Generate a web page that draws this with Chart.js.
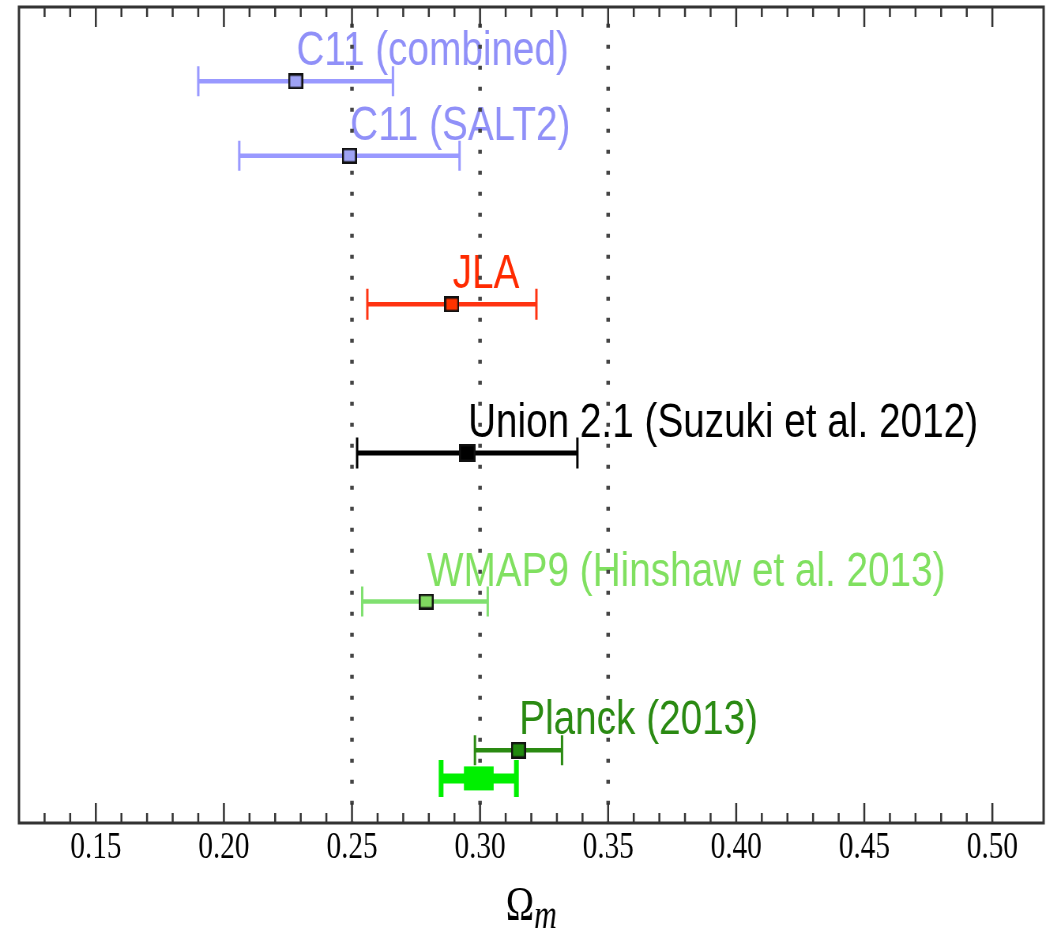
<!DOCTYPE html>
<html>
<head>
<meta charset="utf-8">
<title>Omega_m constraints</title>
<script src="https://cdn.jsdelivr.net/npm/chart.js@4.4.1/dist/chart.umd.min.js"></script>
<style>
  html, body { margin: 0; padding: 0; background: #fff; overflow: hidden; }
  /* the original figure is squeezed horizontally, so draw wide and squash */
  #wrap { position: absolute; left: 0; top: 0; width: 1328px; height: 929px;
          transform: scaleX(0.79); transform-origin: 0 0; }
</style>
</head>
<body>
<div id="wrap"><canvas id="chart"></canvas></div>
<script>
'use strict';

// measurements, top to bottom
const names = ['C11 (combined)', 'C11 (SALT2)', 'JLA', 'Union 2.1 (Suzuki et al. 2012)',
               'WMAP9 (Hinshaw et al. 2013)', 'Planck (2013)', ''];
const omegaM = [0.228, 0.249, 0.289, 0.295, 0.279, 0.315, 0.2995];
const errMinus = [0.038, 0.043, 0.033, 0.043, 0.025, 0.017, 0.0147];
const errPlus = [0.038, 0.043, 0.033, 0.043, 0.024, 0.017, 0.0147];
const innerErr = [0, 0, 0, 0, 0, 0, 0.0058];
const rowPos = [0.5, 1, 2, 3, 4, 5, 5.19];

const tickValues = [0.15, 0.20, 0.25, 0.30, 0.35, 0.40, 0.45, 0.50];
const guideLines = [0.25, 0.30, 0.35];

const rowStyle = [
  { line: '#9999ff', text: '#9090f8', fill: '#9ea2f4', lw: 4.5, cap: 30, capW: 3, mw: 19, mh: 16 },
  { line: '#9999ff', text: '#9090f8', fill: '#9ea2f4', lw: 4.5, cap: 30, capW: 3, mw: 19, mh: 16 },
  { line: '#ff3311', text: '#ff2a00', fill: '#ff3300', lw: 4.5, cap: 31, capW: 3, mw: 19, mh: 16 },
  { line: '#000000', text: '#000000', fill: '#000000', lw: 5, cap: 31, capW: 3, mw: 21, mh: 18 },
  { line: '#80e070', text: '#80e060', fill: '#80d860', lw: 4.5, cap: 30, capW: 3, mw: 19, mh: 16 },
  { line: '#2a8a12', text: '#2a8a12', fill: '#228a10', lw: 4.5, cap: 30, capW: 3, mw: 19, mh: 17 },
  { line: '#00f000', text: '#00f000', fill: '#00f000', lw: 10, cap: 37, capW: 6, mw: 1, mh: 1, boxH: 24 }
];

function marker(fill, w, h) {
  const c = document.createElement('canvas');
  c.width = w;
  c.height = h;
  const g = c.getContext('2d');
  g.fillStyle = fill;
  g.fillRect(0, 0, w, h);
  g.strokeStyle = '#111';
  g.lineWidth = 2.5;
  g.strokeRect(1.25, 1.25, w - 2.5, h - 2.5);
  return c;
}

const omegaPlot = {
  id: 'omegaPlot',
  beforeDatasetsDraw(chart) {
    const { ctx, chartArea: a, scales: { x, y } } = chart;
    ctx.save();

    // labels sit above each point
    ctx.font = '49px "Liberation Sans", Arial, sans-serif';
    ctx.textAlign = 'left';
    ctx.textBaseline = 'alphabetic';
    names.forEach((name, i) => {
      if (!name) return;
      ctx.fillStyle = rowStyle[i].text;
      ctx.fillText(name, x.getPixelForValue(omegaM[i]) + 1, y.getPixelForValue(rowPos[i]) - 16);
    });

    // dotted guides
    ctx.strokeStyle = '#444';
    ctx.lineWidth = 4.5;
    ctx.setLineDash([4, 17]);
    ctx.lineDashOffset = 4.3;
    guideLines.forEach(v => {
      const px = x.getPixelForValue(v);
      ctx.beginPath();
      ctx.moveTo(px, a.top);
      ctx.lineTo(px, a.bottom);
      ctx.stroke();
    });
    ctx.setLineDash([]);

    // error bars
    omegaM.forEach((v, i) => {
      const s = rowStyle[i];
      const py = y.getPixelForValue(rowPos[i]);
      const xl = x.getPixelForValue(v - errMinus[i]);
      const xr = x.getPixelForValue(v + errPlus[i]);
      ctx.strokeStyle = s.line;
      ctx.lineWidth = s.lw;
      ctx.beginPath();
      ctx.moveTo(xl, py);
      ctx.lineTo(xr, py);
      ctx.stroke();
      ctx.lineWidth = s.capW;
      ctx.beginPath();
      ctx.moveTo(xl, py - s.cap / 2);
      ctx.lineTo(xl, py + s.cap / 2);
      ctx.moveTo(xr, py - s.cap / 2);
      ctx.lineTo(xr, py + s.cap / 2);
      ctx.stroke();
      if (innerErr[i] > 0) {
        const bl = x.getPixelForValue(v - innerErr[i]);
        const br = x.getPixelForValue(v + innerErr[i]);
        ctx.fillStyle = s.fill;
        ctx.fillRect(bl, py - s.boxH / 2, br - bl, s.boxH);
      }
    });
    ctx.restore();
  },
  afterDatasetsDraw(chart) {
    const { ctx, chartArea: a, scales: { x } } = chart;
    ctx.save();
    ctx.strokeStyle = '#333';
    ctx.lineWidth = 2.5;
    ctx.beginPath();
    for (let k = 13; k <= 50; k++) {
      const v = k / 100;
      const px = x.getPixelForValue(v);
      const len = (k % 5 === 0) ? 20 : 10;
      ctx.moveTo(px, a.bottom);
      ctx.lineTo(px, a.bottom - len);
      ctx.moveTo(px, a.top);
      ctx.lineTo(px, a.top + len);
    }
    ctx.stroke();
    ctx.lineWidth = 3;
    ctx.strokeRect(a.left, a.top, a.right - a.left, a.bottom - a.top);

    // axis title: Omega with italic subscript m
    ctx.fillStyle = '#000';
    ctx.textBaseline = 'alphabetic';
    ctx.textAlign = 'left';
    ctx.font = '48px "Liberation Serif", "Times New Roman", serif';
    const wO = ctx.measureText('Ω').width;
    ctx.font = 'italic 40px "Liberation Serif", "Times New Roman", serif';
    const wm = ctx.measureText('m').width;
    const x0 = (a.left + a.right) / 2 - (wO + wm) / 2;
    ctx.font = '48px "Liberation Serif", "Times New Roman", serif';
    ctx.fillText('Ω', x0, 920);
    ctx.font = 'italic 40px "Liberation Serif", "Times New Roman", serif';
    ctx.fillText('m', x0 + wO, 928);
    ctx.restore();
  }
};

new Chart(document.getElementById('chart'), {
  type: 'scatter',
  data: {
    datasets: [{
      data: omegaM.map((v, i) => ({ x: v, y: rowPos[i] })),
      pointStyle: rowStyle.map(s => marker(s.fill, s.mw, s.mh)),
      pointRadius: innerErr.map(e => (e > 0 ? 0 : 6)),
      pointHoverRadius: 0
    }]
  },
  options: {
    responsive: true,
    maintainAspectRatio: false,
    animation: false,
    layout: { padding: { left: 24, right: 2.5, top: 7, bottom: 0 } },
    plugins: { legend: { display: false }, tooltip: { enabled: false } },
    scales: {
      x: {
        type: 'linear',
        min: 0.12,
        max: 0.52,
        grid: { display: false, drawTicks: false },
        border: { display: false },
        afterBuildTicks: scale => { scale.ticks = tickValues.map(v => ({ value: v })); },
        afterFit: scale => { scale.height = 106; },
        ticks: {
          padding: 3,
          maxRotation: 0,
          autoSkip: false,
          color: '#000',
          font: { family: '"Liberation Serif", "Times New Roman", serif', size: 37 },
          callback: v => v.toFixed(2)
        }
      },
      y: {
        type: 'linear',
        display: false,
        reverse: true,
        min: 0,
        max: 5.49
      }
    }
  },
  plugins: [omegaPlot]
});
</script>
</body>
</html>
